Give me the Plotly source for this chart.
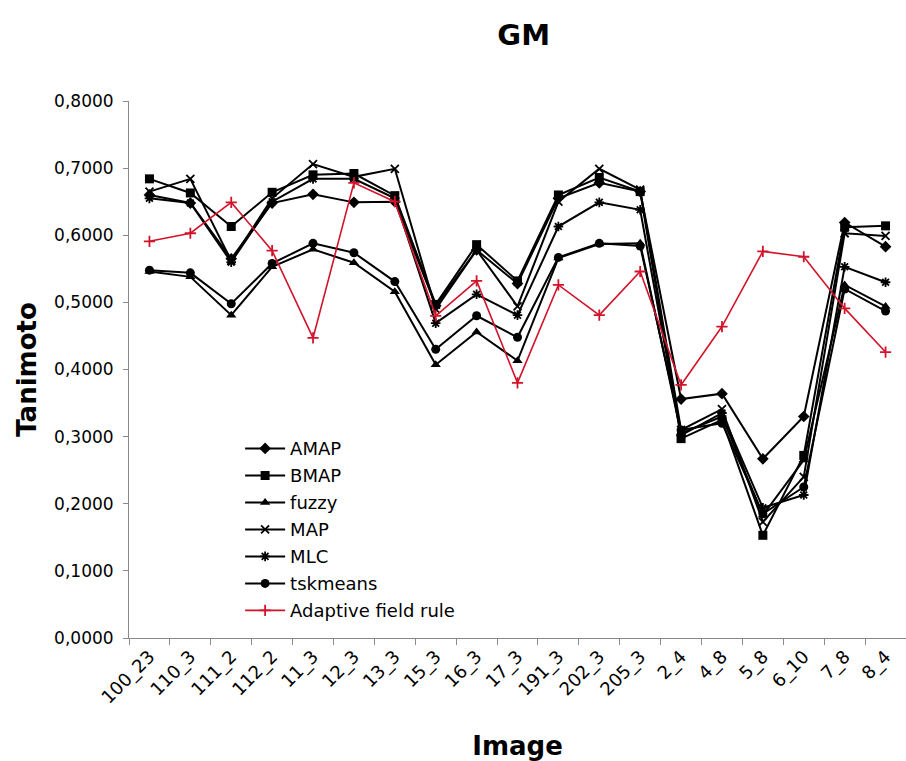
import plotly.graph_objects as go

images = ["100_23", "110_3", "111_2", "112_2", "11_3", "12_3", "13_3", "15_3", "16_3",
          "17_3", "191_3", "202_3", "205_3", "2_4", "4_8", "5_8", "6_10", "7_8", "8_4"]

amap = [0.660, 0.648, 0.565, 0.648, 0.661, 0.649, 0.650, 0.495, 0.578, 0.528, 0.655,
        0.678, 0.665, 0.356, 0.364, 0.267, 0.330, 0.619, 0.583]
bmap = [0.684, 0.663, 0.613, 0.664, 0.690, 0.692, 0.659, 0.497, 0.586, 0.532, 0.660,
        0.686, 0.665, 0.297, 0.325, 0.153, 0.272, 0.612, 0.614]
fuzzy = [0.546, 0.538, 0.481, 0.553, 0.579, 0.559, 0.516, 0.407, 0.456, 0.413, 0.566,
         0.587, 0.588, 0.305, 0.330, 0.183, 0.265, 0.526, 0.494]
map_ = [0.665, 0.684, 0.562, 0.655, 0.706, 0.687, 0.699, 0.490, 0.578, 0.494, 0.650,
        0.699, 0.668, 0.310, 0.341, 0.173, 0.240, 0.603, 0.599]
mlc = [0.655, 0.648, 0.560, 0.650, 0.684, 0.684, 0.655, 0.469, 0.512, 0.481, 0.613,
       0.649, 0.638, 0.302, 0.335, 0.194, 0.213, 0.553, 0.530]
tskmeans = [0.548, 0.544, 0.498, 0.558, 0.588, 0.574, 0.531, 0.430, 0.480, 0.448, 0.567,
            0.588, 0.584, 0.310, 0.320, 0.185, 0.225, 0.520, 0.487]
adaptive = [0.591, 0.603, 0.649, 0.577, 0.447, 0.678, 0.650, 0.480, 0.532, 0.380, 0.526,
            0.481, 0.546, 0.377, 0.464, 0.576, 0.568, 0.491, 0.426]

y_ticks = [0.0, 0.1, 0.2, 0.3, 0.4, 0.5, 0.6, 0.7, 0.8]

FONT = "DejaVu Sans"
series = [
    ("AMAP", amap, "diamond", 9, "black"),
    ("BMAP", bmap, "square", 9, "black"),
    ("fuzzy", fuzzy, "triangle-up", 9, "black"),
    ("MAP", map_, "x-thin-open", 8, "black"),
    ("MLC", mlc, "asterisk-open", 8, "black"),
    ("tskmeans", tskmeans, "circle", 9, "black"),
    ("Adaptive field rule", adaptive, "cross-thin-open", 8, "#d2142b"),
]

fig = go.Figure()
for i, (name, vals, sym, size, col) in enumerate(series):
    fig.add_trace(go.Scatter(
        x=images, y=vals, name=name, mode="lines+markers",
        legendgroup=f"g{i}",
        line=dict(color=col, width=2 if col == "black" else 1.6),
        marker=dict(symbol=sym, size=size, color=col,
                    line=dict(color=col, width=1.8 if "open" in sym else 0)),
    ))

fig.update_layout(
    width=906, height=761,
    margin=dict(l=129, r=0, t=101, b=123),
    paper_bgcolor="white", plot_bgcolor="white",
    font=dict(family=FONT, color="black", size=16),
    title=dict(text="<b>GM</b>", x=0.578, xref="container", xanchor="center",
               y=0.954, yref="container", yanchor="middle",
               font=dict(family=FONT, size=29, color="black")),
    showlegend=True,
    legend=dict(x=0.143, y=0.387, xanchor="left", yanchor="top",
                bgcolor="rgba(0,0,0,0)", font=dict(family=FONT, size=18),
                itemwidth=40, traceorder="grouped", tracegroupgap=0.6),
    xaxis=dict(
        type="category", categoryorder="array", categoryarray=images,
        range=[-0.5, 18.5], tickson="boundaries", ticks="outside", ticklen=6,
        tickcolor="#8a8a8a", showline=True, linecolor="#8a8a8a", linewidth=1,
        showgrid=False, tickangle=-45, tickfont=dict(family=FONT, size=18),
        title=dict(text="<b>Image</b>", font=dict(family=FONT, size=26), standoff=30),
    ),
    yaxis=dict(
        range=[0, 0.8], tickvals=y_ticks, tickformat=".4f", ticks="outside", ticklen=5,
        tickcolor="#8a8a8a", showline=True, linecolor="#8a8a8a", linewidth=1,
        showgrid=False, zeroline=False, tickfont=dict(family=FONT, size=17),
        ticklabelstandoff=6,
        title=dict(text="<b>Tanimoto</b>", font=dict(family=FONT, size=26), standoff=10),
    ),
    separators=",.",
)

fig.write_html("out.html")
